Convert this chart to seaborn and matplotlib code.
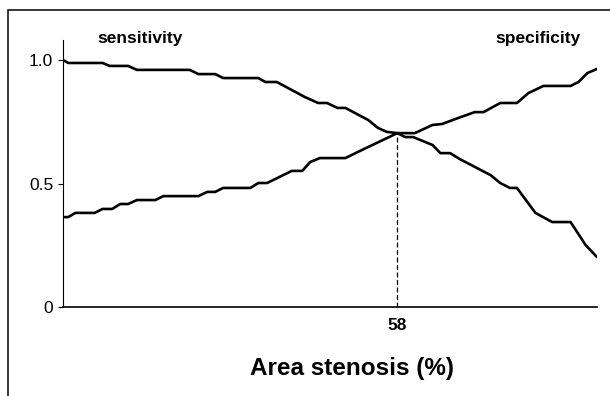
import matplotlib
matplotlib.use("Agg")
import matplotlib.pyplot as plt
import seaborn as sns
from matplotlib.patches import Rectangle

sns.set_style("white")
plt.rcParams['font.family'] = ['Liberation Sans', 'DejaVu Sans']
plt.rcParams.update({
    'text.color': 'black',
    'axes.labelcolor': 'black',
    'xtick.color': 'black',
    'ytick.color': 'black',
})

# Sensitivity curve (area stenosis %, value)
stenosis_sens = [20.0, 20.6, 24.5, 25.3, 27.4, 28.4, 34.4, 35.4, 37.3, 38.2,
                 42.2, 43.0, 44.3, 47.5, 49.0, 50.0, 51.2, 52.1, 54.7, 55.8,
                 56.8, 58.0, 58.9, 59.8, 62.0, 62.9, 64.0, 65.1, 68.6, 69.7,
                 70.8, 71.6, 73.7, 75.6, 77.7, 79.4, 80.7]
sensitivity = [1.0, 0.988, 0.988, 0.976, 0.976, 0.960, 0.960, 0.943, 0.943, 0.927,
               0.927, 0.911, 0.911, 0.850, 0.826, 0.826, 0.806, 0.806, 0.757, 0.725,
               0.709, 0.704, 0.688, 0.688, 0.656, 0.623, 0.623, 0.599, 0.534, 0.502,
               0.482, 0.482, 0.381, 0.344, 0.344, 0.251, 0.202]

# Specificity curve
stenosis_spec = [20.0, 20.6, 21.4, 23.6, 24.5, 25.6, 26.5, 27.4, 28.4, 30.5,
                 31.4, 35.4, 36.4, 37.3, 38.2, 41.3, 42.2, 43.2, 46.0, 47.2,
                 48.1, 49.2, 52.1, 54.0, 58.0, 60.0, 62.0, 63.1, 64.9, 66.8,
                 67.8, 69.7, 71.6, 72.9, 74.6, 77.7, 78.6, 79.6, 80.7]
specificity = [0.364, 0.364, 0.381, 0.381, 0.397, 0.397, 0.417, 0.417, 0.433, 0.433,
               0.449, 0.449, 0.466, 0.466, 0.482, 0.482, 0.502, 0.502, 0.551, 0.551,
               0.587, 0.603, 0.603, 0.636, 0.704, 0.704, 0.737, 0.741, 0.765, 0.789,
               0.789, 0.826, 0.826, 0.866, 0.895, 0.895, 0.911, 0.947, 0.964]

cutoff = 58
cutoff_value = 0.704
y_ticks = [0, 0.5, 1.0]
y_tick_labels = ["0", "0.5", "1.0"]

fig = plt.figure(figsize=(6.1, 3.96), dpi=100)
ax = fig.add_axes([63 / 610, 1 - 307 / 396, 534 / 610, 267 / 396])

sns.lineplot(x=stenosis_sens, y=sensitivity, ax=ax, color="black", lw=1.9,
             estimator=None, sort=False)
sns.lineplot(x=stenosis_spec, y=specificity, ax=ax, color="black", lw=1.9,
             estimator=None, sort=False)
ax.vlines(cutoff, 0, cutoff_value, colors="black", linestyles=(0, (4, 2)), lw=0.9)

ax.set_xlim(20, 80.7)
ax.set_ylim(0, 1.081)
ax.set_yticks(y_ticks)
ax.set_yticklabels(y_tick_labels, fontsize=12.5)
ax.set_xticks([cutoff])
ax.set_xticklabels([str(cutoff)], fontsize=12.5, fontweight="bold")
ax.tick_params(axis="y", direction="out", length=3.5, width=0.8, pad=3.5, left=True)
ax.tick_params(axis="x", length=0, pad=8)

sns.despine(ax=ax)
ax.spines["left"].set_linewidth(0.8)
ax.spines["bottom"].set_linewidth(1.2)
ax.spines["left"].set_color("black")
ax.spines["bottom"].set_color("black")

fig.text(140 / 610, 1 - 38 / 396, "sensitivity", fontsize=12.5, fontweight="bold",
         ha="center", va="center")
fig.text(538 / 610, 1 - 38 / 396, "specificity", fontsize=12.5, fontweight="bold",
         ha="center", va="center")
fig.text(352 / 610, 1 - 369 / 396, "Area stenosis (%)", fontsize=17.5, fontweight="bold",
         ha="center", va="center")

# outer frame (cut off on the right and bottom in the original)
fig.add_artist(Rectangle((8 / 610, -0.05), 1.1, 1 - 10 / 396 + 0.05,
                         transform=fig.transFigure, fill=False, lw=1.1,
                         ec="black", clip_on=False))

fig.savefig("out.png", dpi=100)
